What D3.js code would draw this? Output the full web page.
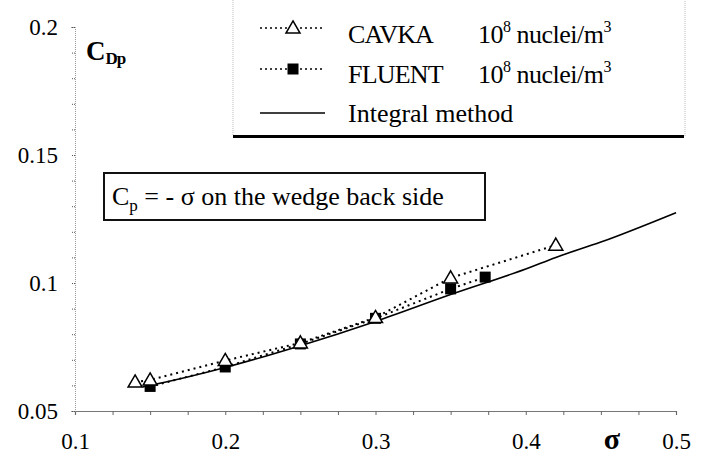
<!DOCTYPE html>
<html><head><meta charset="utf-8">
<script src="https://cdn.jsdelivr.net/npm/d3@7"></script>
<style>body{margin:0;background:#fff;}</style></head>
<body><svg id="c" width="705" height="466"><style>text, tspan { font-family: 'Liberation Serif', 'Times New Roman', Tinos !important; }</style></svg>
<script>
// ---- data ----
const cavkaSigma = [0.14, 0.15, 0.20, 0.25, 0.30, 0.35, 0.42];
const cavkaCdp   = [0.0613, 0.0621, 0.0697, 0.0766, 0.0865, 0.1020, 0.1148];
const fluentSigma = [0.15, 0.20, 0.25, 0.30, 0.35, 0.373];
const fluentCdp   = [0.0596, 0.0672, 0.0762, 0.0862, 0.0977, 0.1023];
const integralSigma = [0.145, 0.15, 0.20, 0.25, 0.30, 0.35, 0.40, 0.42, 0.45, 0.50];
const integralCdp   = [0.0594, 0.0600, 0.0670, 0.0755, 0.0850, 0.0955, 0.1055, 0.1100, 0.1160, 0.1275];
const xTickValues = [0.1, 0.2, 0.3, 0.4, 0.5];
const xTickLabels = ["0.1", "0.2", "0.3", "0.4", "0.5"];
const yTickValues = [0.05, 0.10, 0.15, 0.20];
const yTickLabels = ["0.05", "0.1", "0.15", "0.2"];
const legendLabels = ["CAVKA", "FLUENT", "Integral method"];

const FONT = "'Liberation Serif', 'Times New Roman', Tinos";
const svg = d3.select("#c");
const x = d3.scaleLinear().domain([0.1, 0.5]).range([75, 676]);
const y = d3.scaleLinear().domain([0.05, 0.2]).range([411, 27]);

const xMinor = d3.range(0, 17).map(i => 0.1 + i * 0.025);
const yMinor = d3.range(0, 16).map(i => 0.05 + i * 0.01);

const gx = svg.append("g").attr("transform", `translate(0,${y(0.05)})`)
  .call(d3.axisBottom(x).tickValues(xMinor).tickSize(4).tickFormat(""));
gx.select(".domain").attr("stroke", "#777").attr("stroke-width", 1.2);
gx.selectAll(".tick line").attr("stroke", "#666");

const gxl = svg.append("g").attr("transform", `translate(0,${y(0.05)})`)
  .call(d3.axisBottom(x).tickValues(xTickValues).tickSize(0).tickPadding(22)
    .tickFormat((d, i) => xTickLabels[i]));
gxl.select(".domain").remove();
gxl.attr("font-family", null).attr("font-size", 23);
gxl.selectAll("text").attr("fill", "#000");

const gy = svg.append("g").attr("transform", `translate(${x(0.1)},0)`)
  .call(d3.axisLeft(y).tickValues(yMinor).tickSize(4).tickFormat(""));
gy.select(".domain").attr("stroke", "#999").attr("stroke-width", 1).attr("stroke-dasharray", "1,1");
gy.selectAll(".tick line").attr("stroke", "#555").attr("stroke-dasharray", "1,1");

const gyl = svg.append("g").attr("transform", `translate(${x(0.1)},0)`)
  .call(d3.axisLeft(y).tickValues(yTickValues).tickSize(0).tickPadding(17)
    .tickFormat((d, i) => yTickLabels[i]));
gyl.select(".domain").remove();
gyl.attr("font-family", null).attr("font-size", 23);
gyl.selectAll("text").attr("fill", "#000");

// axis titles
const cdp = svg.append("text").attr("x", 86).attr("y", 60)
  .attr("font-weight", "bold").attr("font-size", 27);
cdp.append("tspan").text("C");
cdp.append("tspan").attr("font-size", 17).attr("dy", 4).attr("letter-spacing", -1).text("Dp");

svg.append("text").attr("x", 612).attr("y", 449).attr("text-anchor", "middle")
  .attr("font-weight", "bold").attr("font-size", 30).text("σ");

// lines
const line = d3.line().x(d => x(d[0])).y(d => y(d[1]));
const integral = integralSigma.map((s, i) => [s, integralCdp[i]]);
const cavka = cavkaSigma.map((s, i) => [s, cavkaCdp[i]]);
const fluent = fluentSigma.map((s, i) => [s, fluentCdp[i]]);

svg.append("path").datum(integral).attr("d", line.curve(d3.curveMonotoneX))
  .attr("fill", "none").attr("stroke", "#000").attr("stroke-width", 1.6);
line.curve(d3.curveLinear);
svg.append("path").datum(fluent).attr("d", line)
  .attr("fill", "none").attr("stroke", "#000").attr("stroke-width", 2).attr("stroke-dasharray", "2,4");
svg.append("path").datum(cavka).attr("d", line)
  .attr("fill", "none").attr("stroke", "#000").attr("stroke-width", 2).attr("stroke-dasharray", "2,4");

// markers
const sq = 11;
svg.selectAll("rect.fl").data(fluent).join("rect").attr("class", "fl")
  .attr("x", d => x(d[0]) - sq / 2).attr("y", d => y(d[1]) - sq / 2)
  .attr("width", sq).attr("height", sq).attr("fill", "#000");
const tri = d3.symbol().type(d3.symbolTriangle).size(85);
svg.selectAll("path.cv").data(cavka).join("path").attr("class", "cv")
  .attr("transform", d => `translate(${x(d[0])},${y(d[1]) + 1})`)
  .attr("d", tri).attr("fill", "#fff").attr("stroke", "#000").attr("stroke-width", 1.5);

// annotation box
svg.append("rect").attr("x", 104).attr("y", 173).attr("width", 381).attr("height", 47)
  .attr("fill", "#fff").attr("stroke", "#111").attr("stroke-width", 2);
const ann = svg.append("text").attr("x", 112).attr("y", 205).attr("font-size", 26);
ann.append("tspan").text("C");
ann.append("tspan").attr("font-size", 17).attr("dy", 6).text("p");
ann.append("tspan").attr("dy", -6).text(" = - σ on the wedge back side");

// legend
const lg = svg.append("g");
lg.append("rect").attr("x", 233).attr("y", -5).attr("width", 452).attr("height", 141)
  .attr("fill", "#fff").attr("stroke", "#bbb").attr("stroke-width", 1).attr("stroke-dasharray", "1,1");
lg.append("line").attr("x1", 233).attr("x2", 684).attr("y1", 136.5).attr("y2", 136.5)
  .attr("stroke", "#000").attr("stroke-width", 3);
const rowsY = [28, 69, 113];
lg.append("line").attr("x1", 260).attr("x2", 322).attr("y1", rowsY[0]).attr("y2", rowsY[0])
  .attr("stroke", "#000").attr("stroke-width", 1.5).attr("stroke-dasharray", "2,3");
lg.append("path").attr("transform", `translate(293,${rowsY[0] + 1})`).attr("d", tri)
  .attr("fill", "#fff").attr("stroke", "#000").attr("stroke-width", 1.5);
lg.append("line").attr("x1", 260).attr("x2", 322).attr("y1", rowsY[1]).attr("y2", rowsY[1])
  .attr("stroke", "#000").attr("stroke-width", 1.5).attr("stroke-dasharray", "2,3");
lg.append("rect").attr("x", 293 - sq / 2).attr("y", rowsY[1] - sq / 2).attr("width", sq).attr("height", sq).attr("fill", "#000");
lg.append("line").attr("x1", 260).attr("x2", 325).attr("y1", rowsY[2]).attr("y2", rowsY[2])
  .attr("stroke", "#000").attr("stroke-width", 1.5);

const textY = [43, 83, 122];
legendLabels.forEach((t, i) => {
  lg.append("text").attr("x", 348).attr("y", textY[i]).attr("font-size", 26)
    .attr("letter-spacing", i === 2 ? 0 : -0.8).text(t);
  if (i < 2) {
    const u = lg.append("text").attr("x", 478).attr("y", textY[i]).attr("font-size", 26)
      .attr("letter-spacing", -0.5);
    u.append("tspan").text("10");
    u.append("tspan").attr("font-size", 16).attr("dy", -11).text("8");
    u.append("tspan").attr("dy", 11).text(" nuclei/m");
    u.append("tspan").attr("font-size", 16).attr("dy", -11).text("3");
  }
});

svg.selectAll("text, tspan").attr("font-family", "Liberation Serif")
  .each(function () { this.style.setProperty("font-family", FONT, "important"); });
</script></body></html>
